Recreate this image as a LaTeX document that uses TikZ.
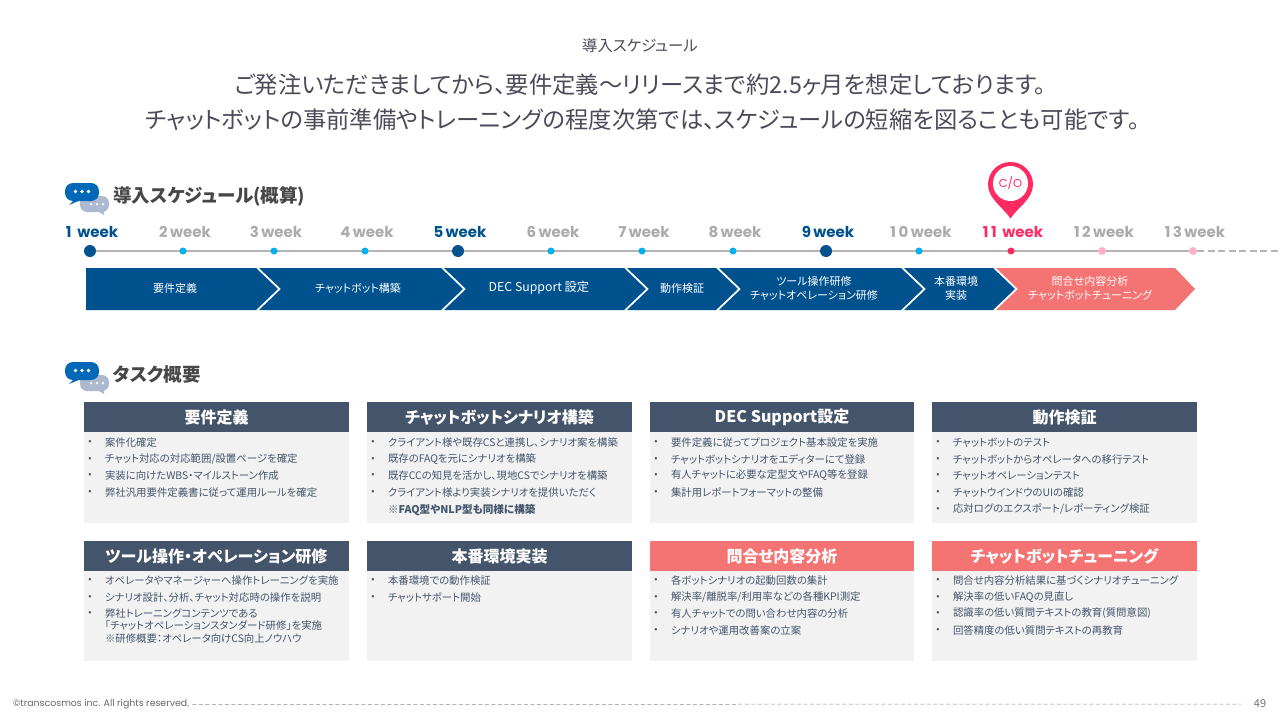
\documentclass[tikz,border=0pt]{standalone}
\usepackage{fontspec}
\setmainfont[RawFeature=+palt]{Noto Sans CJK JP}
\newfontfamily\wk{Poppins}
\usetikzlibrary{backgrounds}
\definecolor{navy}{HTML}{00528F}
\definecolor{slate}{HTML}{44546A}
\definecolor{coral}{HTML}{F47373}
\definecolor{pale}{HTML}{F2F2F2}
\definecolor{wkgray}{HTML}{ABABAB}
\definecolor{cyandot}{HTML}{00B0F0}
\definecolor{hot}{HTML}{FF2A62}
\definecolor{ltpink}{HTML}{FFB0C8}
\definecolor{iconblue}{HTML}{0068B7}
\definecolor{icongray}{HTML}{ADB9CF}
\definecolor{ink}{HTML}{4A4A58}
\tikzset{
  txt/.style={inner sep=0pt,outer sep=0pt},
  ttl/.style={txt,text=ink,font=\fontsize{23.3}{26}\selectfont},
  sect/.style={txt,anchor=west,text=black!72,font=\fontsize{18.5}{21}\selectfont\bfseries},
  wlab/.style={txt,anchor=base,font=\fontsize{15}{18}\selectfont\wk\bfseries},
  bigdot/.style={circle,fill=navy,minimum size=12pt,inner sep=0pt},
  smdot/.style={circle,fill=cyandot,minimum size=7pt,inner sep=0pt},
  chev/.style={fill=navy},
  chevlab/.style={txt,text=white,align=center,font=\fontsize{11}{14.5}\selectfont},
  hdr/.style={txt,anchor=north west,fill=slate,text=white,minimum height=30pt,font=\fontsize{16}{18}\selectfont\bfseries},
  body/.style={txt,anchor=north west,fill=pale},
  bul/.style={txt,text=slate,font=\fontsize{9.5}{12}\selectfont},
  itm/.style={txt,anchor=west,text=slate,align=left,font=\fontsize{10.4}{12.6}\selectfont},
}
\newcommand{\bubbles}[1]{%
  \begin{scope}[yshift=#1]
    \fill[icongray,rounded corners=7pt] (80,196) rectangle (109,212);
    \fill[icongray] (97,211) -- (104,215) -- (104,210) -- cycle;
    \fill[iconblue,rounded corners=8pt] (65,183) rectangle (99,201);
    \fill[iconblue] (75,199) -- (69,205) -- (81,200) -- cycle;
    \foreach \x in {75.5,82,88.5}{\fill[white] (\x,191.5) circle (1.8);}
    \foreach \x in {91,97,103}{\fill[white!80!icongray] (\x,204) circle (1.5);}
  \end{scope}}
\newcommand{\card}[6]{% id, x, top, width, body height, header colour + title in #6
  \node[body,minimum width=#4pt,minimum height=#5pt] (#1b) at (#2,#3+30) {};
  \node[hdr,minimum width=#4pt,#6;}
\newcommand{\li}[5]{% id, x, y, text
  \node[bul] (#1d) at (#2+6,#3+0.5) {•};
  \node[itm] (#1t) at (#2+21,#3+0.5) {#4};#5}
\newcommand{\dg}{\kern2.5pt}
\begin{document}
\begin{tikzpicture}[x=1pt,y=-1pt]
\useasboundingbox (0,0) rectangle (1280,720);
\node[txt,text=ink,font=\fontsize{15.4}{17}\selectfont] (head) at (640,46) {導入スケジュール};
\node[ttl] (t1) at (640,84.5) {ご発注いただきましてから、要件定義～リリースまで約2.5ヶ月を想定しております。};
\node[ttl] (t2) at (642.5,119.5) {チャットボットの事前準備やトレーニングの程度次第では、スケジュールの短縮を図ることも可能です。};
\bubbles{0pt}
\node[sect] (s1) at (113,196) {導入スケジュール(概算)};
% timeline
\foreach \n/\x/\s/\l/\c in {1/90/bigdot/1 \dg week/navy,2/183/smdot/2\dg week/wkgray,3/274/smdot/3\dg week/wkgray,4/365/smdot/4\dg week/wkgray,5/458/bigdot/5\dg week/navy,6/551/smdot/6\dg week/wkgray,7/642/smdot/7\dg week/wkgray,8/733/smdot/8\dg week/wkgray,9/826/bigdot/9\dg week/navy,10/919/smdot/1\dg 0\dg week/wkgray}{
  \node[\s] (d\n) at (\x,251) {};
  \node[wlab,text=\c] (w\n) at (\x+2,237.5) {\l};
}
\node[smdot,fill=hot] (d11) at (1011,251) {};
\node[wlab,text=hot] (w11) at (1013,237.5) {1\dg 1 \dg week};
\node[smdot,fill=ltpink,minimum size=8pt] (d12) at (1102,251) {};
\node[wlab,text=wkgray] (w12) at (1104,237.5) {1\dg 2\dg week};
\node[smdot,fill=ltpink,minimum size=8pt] (d13) at (1193,251) {};
\node[wlab,text=wkgray] (w13) at (1195,237.5) {1\dg 3\dg week};
\coordinate (tlend) at (1280,251);
\begin{scope}[on background layer]
  \draw[wkgray!90,line width=1.4pt] (d1) -- (d13);
  \draw[wkgray!90,line width=1.4pt,dash pattern=on 7pt off 3.5pt] (d13) -- (tlend);
\end{scope}
% pin
\fill[hot] (1010.5,218.5) .. controls (1003,207) and (988,199) .. (988,184.5) .. controls (988,172) and (998,162) .. (1010.5,162) .. controls (1023,162) and (1033,172) .. (1033,184.5) .. controls (1033,199) and (1018,207) .. (1010.5,218.5) -- cycle;
\node[circle,fill=white,minimum size=35pt,inner sep=0pt,text=hot,font=\fontsize{11.5}{12}\selectfont\wk] (co) at (1010.5,183.5) {C/O};
% chevrons
\fill[chev] (86,268) -- (256,268) -- (278,289) -- (256,310) -- (86,310) -- cycle;
\fill[chev] (259,268) -- (441,268) -- (463,289) -- (441,310) -- (259,310) -- (281,289) -- cycle;
\fill[chev] (444,268) -- (624,268) -- (646,289) -- (624,310) -- (444,310) -- (466,289) -- cycle;
\fill[chev] (627,268) -- (716,268) -- (738,289) -- (716,310) -- (627,310) -- (649,289) -- cycle;
\fill[chev] (719,268) -- (901,268) -- (923,289) -- (901,310) -- (719,310) -- (741,289) -- cycle;
\fill[chev] (904,268) -- (993,268) -- (1015,289) -- (993,310) -- (904,310) -- (926,289) -- cycle;
\fill[coral] (996,268) -- (1175,268) -- (1195,289) -- (1175,310) -- (996,310) -- (1018,289) -- cycle;
\node[chevlab] (c1) at (175,288) {要件定義};
\node[chevlab] (c2) at (358,288) {チャットボット構築};
\node[chevlab,font=\fontsize{12.3}{14.5}\selectfont] (c3) at (539,288) {DEC Support 設定};
\node[chevlab] (c4) at (682,288) {動作検証};
\node[chevlab] (c5) at (814,288.5) {ツール操作研修\\チャットオペレーション研修};
\node[chevlab] (c6) at (956,288.5) {本番環境\\実装};
\node[chevlab] (c7) at (1090,288.5) {問合せ内容分析\\チャットボットチューニング};
\bubbles{-179pt}
\node[sect] (s2) at (113,375) {タスク概要};
% cards, row 1
\card{a}{84}{402}{265}{91}{] (ah) at (84,402) {要件定義}}
\card{b}{367}{402}{265}{91}{] (bh) at (367,402) {チャットボットシナリオ構築}}
\card{c}{650}{402}{264}{91}{] (ch) at (650,402) {DEC Support設定}}
\card{e}{932}{402}{265}{91}{] (eh) at (932,402) {動作検証}}
% cards, row 2
\card{f}{84}{541}{265}{90}{] (fh) at (84,541) {ツール操作・オペレーション研修}}
\card{g}{367}{541}{265}{90}{] (gh) at (367,541) {本番環境実装}}
\card{h}{650}{541}{264}{90}{fill=coral] (hh) at (650,541) {問合せ内容分析}}
\card{i}{932}{541}{265}{90}{fill=coral] (ih) at (932,541) {チャットボットチューニング}}
% items
\li{a1}{84}{442}{案件化確定}{}
\li{a2}{84}{459}{チャット対応の対応範囲/設置ページを確定}{}
\li{a3}{84}{475}{実装に向けたWBS・マイルストーン作成}{}
\li{a4}{84}{492}{弊社汎用要件定義書に従って運用ルールを確定}{}
\li{b1}{367}{442}{クライアント様や既存CSと連携し、シナリオ案を構築}{}
\li{b2}{367}{459}{既存のFAQを元にシナリオを構築}{}
\li{b3}{367}{475}{既存CCの知見を活かし、現地CSでシナリオを構築}{}
\li{b4}{367}{492}{クライアント様より実装シナリオを提供いただく}{}
\node[itm,font=\fontsize{10.6}{12}\selectfont\bfseries] (b5) at (388,510) {※FAQ型やNLP型も同様に構築};
\li{c1}{650}{442}{要件定義に従ってプロジェクト基本設定を実施}{}
\li{c2}{650}{459}{チャットボットシナリオをエディターにて登録}{}
\li{c3}{650}{475}{有人チャットに必要な定型文やFAQ等を登録}{}
\li{c4}{650}{492}{集計用レポートフォーマットの整備}{}
\li{e1}{932}{442}{チャットボットのテスト}{}
\li{e2}{932}{459}{チャットボットからオペレータへの移行テスト}{}
\li{e3}{932}{475}{チャットオペレーションテスト}{}
\li{e4}{932}{492}{チャットウインドウのUIの確認}{}
\li{e5}{932}{509}{応対ログのエクスポート/レポーティング検証}{}
\li{f1}{84}{580}{オペレータやマネージャーへ操作トレーニングを実施}{}
\li{f2}{84}{597}{シナリオ設計、分析、チャット対応時の操作を説明}{}
\li{f3}{84}{613}{弊社トレーニングコンテンツである}{}
\node[itm] (f4) at (105,632) {「チャットオペレーションスタンダード研修」を実施\\※研修概要：オペレータ向けCS向上ノウハウ};
\li{g1}{367}{580}{本番環境での動作検証}{}
\li{g2}{367}{597}{チャットサポート開始}{}
\li{h1}{650}{580}{各ボットシナリオの起動回数の集計}{}
\li{h2}{650}{597}{解決率/離脱率/利用率などの各種KPI測定}{}
\li{h3}{650}{613}{有人チャットでの問い合わせ内容の分析}{}
\li{h4}{650}{630}{シナリオや運用改善案の立案}{}
\li{i1}{932}{580}{問合せ内容分析結果に基づくシナリオチューニング}{}
\li{i2}{932}{597}{解決率の低いFAQの見直し}{}
\li{i3}{932}{613}{認識率の低い質問テキストの教育(質問意図)}{}
\li{i4}{932}{630}{回答精度の低い質問テキストの再教育}{}
% footer
\node[txt,anchor=west,text=black!60,font=\fontsize{9.4}{10}\selectfont\wk] (foot) at (13,704.5) {©transcosmos inc. All rights reserved.};
\node[txt,text=black!55,font=\fontsize{11}{12}\selectfont] (pg) at (1260,704) {49};
\draw[black!45,line width=0.5pt,dash pattern=on 4pt off 2.5pt,shorten <=3pt,shorten >=13pt] (foot.east) -- (pg.west);
\end{tikzpicture}
\end{document}
